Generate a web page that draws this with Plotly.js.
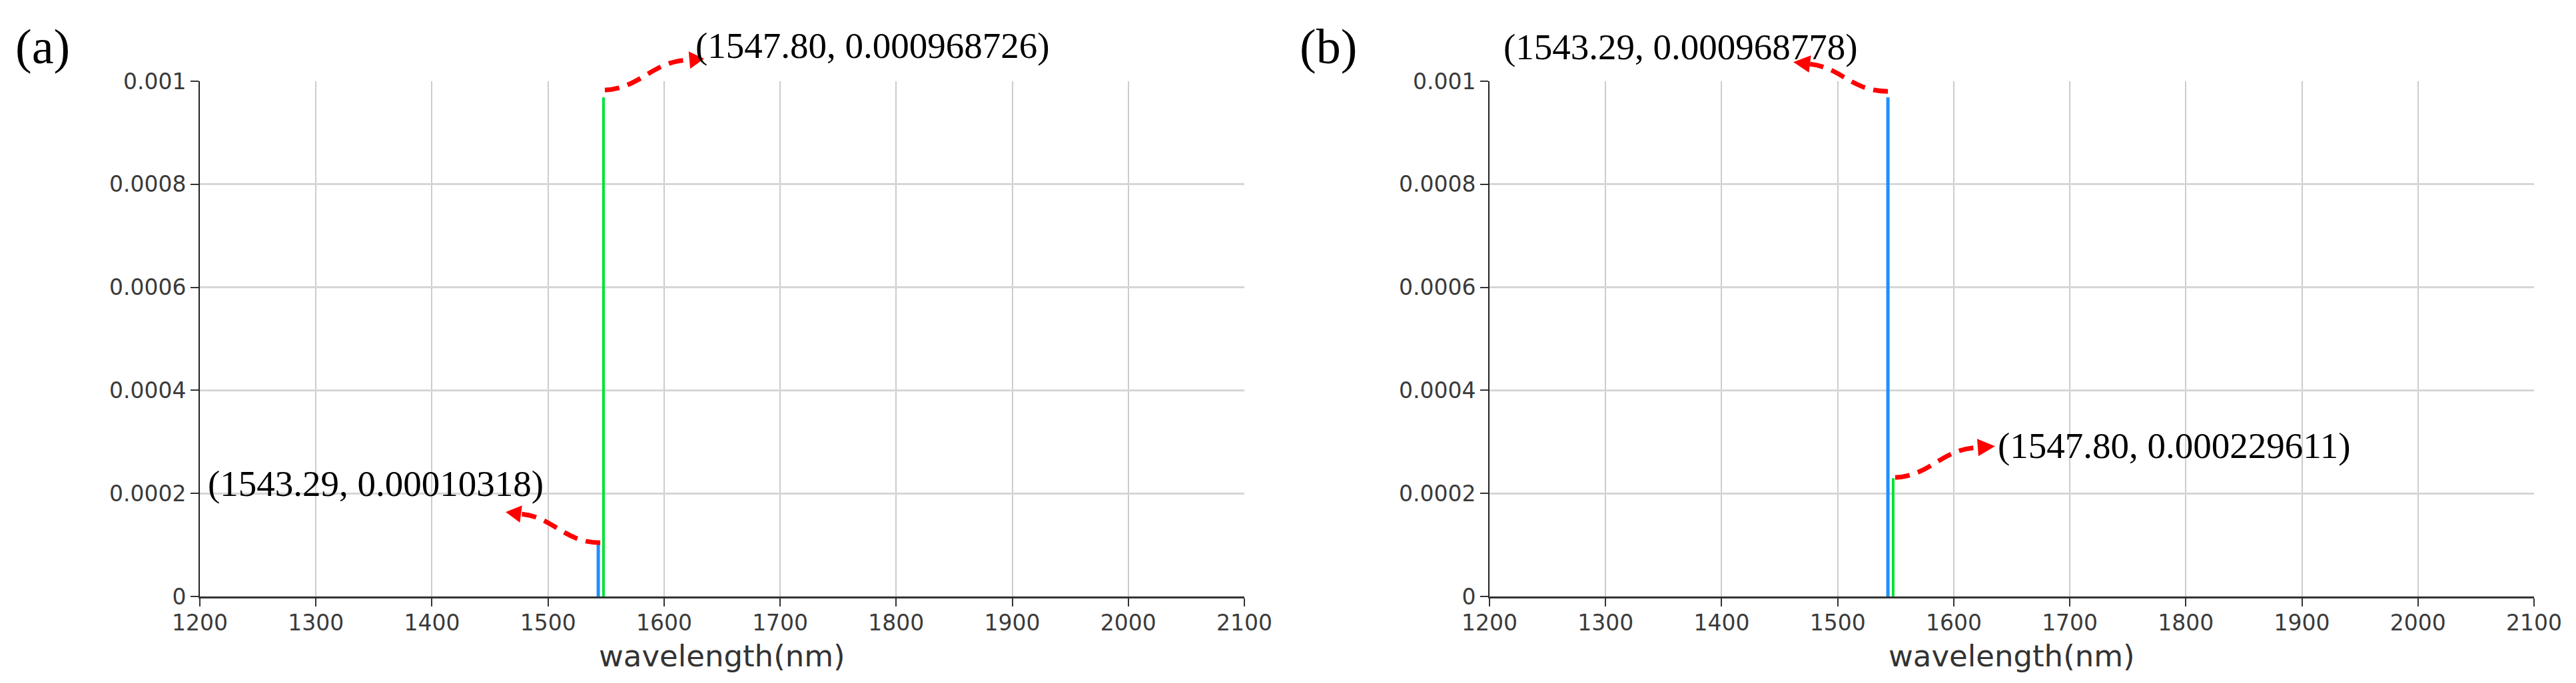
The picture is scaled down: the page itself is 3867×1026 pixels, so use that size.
<!DOCTYPE html>
<html>
<head>
<meta charset="utf-8">
<script src="https://cdn.plot.ly/plotly-3.0.1.min.js"></script>
<style>html,body{margin:0;padding:0;background:#fff;}</style>
</head>
<body>
<div id="chart" style="width:3867px;height:1026px;"></div>
<script>
// ---------------- data ----------------
const wavelengths = [1543.29, 1547.80];            // nm
const seriesColors = ['#1e90ff', '#00e233'];        // blue, green
const powerA = [0.00010318, 0.000968726];           // panel (a)
const powerB = [0.000968778, 0.000229611];          // panel (b)
const panelLabels = ['(a)', '(b)'];
const xTickVals = [1200, 1300, 1400, 1500, 1600, 1700, 1800, 1900, 2000, 2100];
const xTickText = ['1200', '1300', '1400', '1500', '1600', '1700', '1800', '1900', '2000', '2100'];
const yTickVals = [0, 0.0002, 0.0004, 0.0006, 0.0008, 0.001];
const yTickText = ['0', '0.0002', '0.0004', '0.0006', '0.0008', '0.001'];
const xGridVals = [1300, 1400, 1500, 1600, 1700, 1800, 1900, 2000];
const yGridVals = [0.0002, 0.0004, 0.0006, 0.0008];
const xTitle = 'wavelength(nm)';
const xRange = [1200, 2100];
const yRange = [0, 0.001];

// ---------------- geometry ----------------
const W = 3867, H = 1026;
const plotTop = 122, plotBottom = 896;
const panelX = [[300, 1868], [2236, 3804]];
const yDom = [(H - plotBottom) / H, (H - plotTop) / H];
const nmPerPx = (xRange[1] - xRange[0]) / (panelX[0][1] - panelX[0][0]);
const valPerPx = (yRange[1] - yRange[0]) / (plotBottom - plotTop);

const powers = [powerA, powerB];
const tickFont = {family: 'DejaVu Sans', size: 33, color: '#3a3a3a'};

// arrow / label style per panel & series (pixel offsets from the peak, screen coordinates)
const arrowStyle = [
  [ // panel a
    {c: [[3, -1], [-52, -1], [-67, -40], [-116, -44]], tip: [-139, -47], tx: -80, ty: -90, anchor: 'right'},
    {c: [[2, -11], [55, -13], [75, -56], [129, -56]], tip: [151, -58], tx: 136, ty: -78, anchor: 'left'}
  ],
  [ // panel b
    {c: [[0, -9], [-55, -9], [-70, -45], [-117, -50]], tip: [-142, -53], tx: -43, ty: -76, anchor: 'right'},
    {c: [[3, -1], [55, -3], [75, -45], [127, -46]], tip: [153, -48], tx: 155, ty: -49, anchor: 'left'}
  ]
];

const traces = [];
const shapes = [];
const annotations = [];
const layout = {
  width: W, height: H,
  margin: {l: 0, r: 0, t: 0, b: 0},
  paper_bgcolor: '#ffffff',
  plot_bgcolor: 'rgba(0,0,0,0)',
  showlegend: false
};

for (let p = 0; p < 2; p++) {
  const gx = p === 0 ? 'x' : 'x2', gy = p === 0 ? 'y' : 'y2';
  const ox = p === 0 ? 'x3' : 'x4', oy = p === 0 ? 'y3' : 'y4';
  const dom = [panelX[p][0] / W, panelX[p][1] / W];
  const gxName = 'xaxis' + (p === 0 ? '' : '2'), gyName = 'yaxis' + (p === 0 ? '' : '2');
  const oxName = 'xaxis' + (p === 0 ? '3' : '4'), oyName = 'yaxis' + (p === 0 ? '3' : '4');

  // data -> paper converters (so decorative arrows are not clipped by the plot area)
  const toPaperX = (x) => dom[0] + (x - xRange[0]) / (xRange[1] - xRange[0]) * (dom[1] - dom[0]);
  const toPaperY = (y) => yDom[0] + (y - yRange[0]) / (yRange[1] - yRange[0]) * (yDom[1] - yDom[0]);

  // grid-only axes (traces drawn here, above the grid)
  layout[gxName] = {domain: dom, range: xRange, anchor: gy, tickmode: 'array', tickvals: xGridVals,
    showticklabels: false, ticks: '', showline: false, zeroline: false,
    showgrid: true, gridcolor: '#cccccc', gridwidth: 2, fixedrange: true};
  layout[gyName] = {domain: yDom, range: yRange, anchor: gx, tickmode: 'array', tickvals: yGridVals,
    showticklabels: false, ticks: '', showline: false, zeroline: false,
    showgrid: true, gridcolor: '#d6d6d6', gridwidth: 3, fixedrange: true};

  // labelled overlay axes
  layout[oxName] = {overlaying: gx, anchor: oy, range: xRange, tickmode: 'array', tickvals: xTickVals, ticktext: xTickText,
    showgrid: false, zeroline: false, showline: true, linecolor: '#333', linewidth: 3,
    ticks: 'outside', ticklen: 12, tickwidth: 2, tickcolor: '#333', tickfont: tickFont, ticklabelstandoff: -4};
  layout[oyName] = {overlaying: gy, anchor: ox, range: yRange, tickmode: 'array', tickvals: yTickVals, ticktext: yTickText,
    showgrid: false, zeroline: false, showline: true, linecolor: '#222', linewidth: 2,
    ticks: 'outside', ticklen: 12, tickwidth: 2, tickcolor: '#333', tickfont: tickFont};

  // invisible trace for overlay subplot
  traces.push({type: 'scatter', mode: 'lines', x: [], y: [], xaxis: ox, yaxis: oy, hoverinfo: 'skip', showlegend: false});

  for (let i = 0; i < wavelengths.length; i++) {
    const w = wavelengths[i], v = powers[p][i];
    traces.push({
      type: 'scatter', mode: 'lines', x: [w, w], y: [0, v], xaxis: gx, yaxis: gy,
      line: {color: seriesColors[i], width: i === 0 ? 5 : 4}, hoverinfo: 'x+y', showlegend: false
    });

    const st = arrowStyle[p][i];
    const toPaper = (pt) => [toPaperX(w + pt[0] * nmPerPx), toPaperY(v - pt[1] * valPerPx)];
    const c = st.c.map(toPaper);
    shapes.push({
      type: 'path', xref: 'paper', yref: 'paper', layer: 'above',
      path: `M ${c[0][0]},${c[0][1]} C ${c[1][0]},${c[1][1]} ${c[2][0]},${c[2][1]} ${c[3][0]},${c[3][1]}`,
      line: {color: '#ff0000', width: 7, dash: '22px,13px'}
    });
    // arrow head
    const P3 = st.c[3], T = st.tip;
    const dx = T[0] - P3[0], dy = T[1] - P3[1];
    const L = Math.hypot(dx, dy);
    const nx = -dy / L, ny = dx / L, hw = 13;
    const b1 = toPaper([P3[0] + nx * hw, P3[1] + ny * hw]);
    const b2 = toPaper([P3[0] - nx * hw, P3[1] - ny * hw]);
    const tp = toPaper(T);
    shapes.push({
      type: 'path', xref: 'paper', yref: 'paper', layer: 'above',
      path: `M ${tp[0]},${tp[1]} L ${b1[0]},${b1[1]} L ${b2[0]},${b2[1]} Z`,
      fillcolor: '#ff0000', line: {width: 0}
    });
    annotations.push({
      xref: gx, yref: gy, x: w, y: v, xshift: st.tx, yshift: -st.ty,
      xanchor: st.anchor, yanchor: 'middle', showarrow: false,
      text: `(${w.toFixed(2)}, ${v})`,
      font: {family: 'Liberation Serif', size: 55, color: '#000'}
    });
  }

  // axis title
  annotations.push({
    xref: 'paper', yref: 'paper', x: (dom[0] + dom[1]) / 2, y: 1 - 985 / H,
    xanchor: 'center', yanchor: 'middle', showarrow: false, text: xTitle,
    font: {family: 'DejaVu Sans', size: 45, color: '#333'}
  });
}

annotations.push({xref: 'paper', yref: 'paper', x: 64 / W, y: 1 - 70 / H, xanchor: 'center', yanchor: 'middle',
  showarrow: false, text: panelLabels[0], font: {family: 'Liberation Serif', size: 74, color: '#000'}});
annotations.push({xref: 'paper', yref: 'paper', x: 1994 / W, y: 1 - 70 / H, xanchor: 'center', yanchor: 'middle',
  showarrow: false, text: panelLabels[1], font: {family: 'Liberation Serif', size: 74, color: '#000'}});

layout.shapes = shapes;
layout.annotations = annotations;

Plotly.newPlot('chart', traces, layout, {displayModeBar: false, staticPlot: true});
</script>
</body>
</html>
